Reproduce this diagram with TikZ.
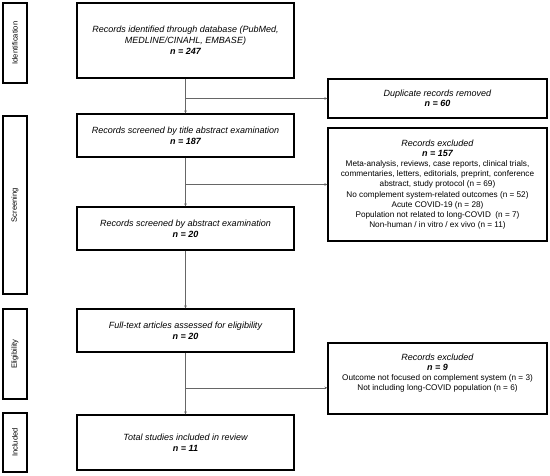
\documentclass[tikz,border=0pt]{standalone}
\usepackage{fontspec}
\setmainfont{Liberation Sans}
\usetikzlibrary{arrows.meta,calc}
\begin{document}
\begin{tikzpicture}[x=1pt,y=-1pt,
  stage/.style={draw=black,line width=1.1pt,minimum width=24pt,inner sep=0pt},
  stagetext/.style={rotate=90,font=\fontsize{7.6}{9}\selectfont},
  mainbox/.style={draw=black,line width=1.3pt,minimum width=217pt,align=center,inner sep=2pt,
    font=\fontsize{9}{11}\selectfont},
  sidebox/.style={draw=black,line width=1.3pt,minimum width=219pt,align=center,inner sep=2pt,
    font=\fontsize{8.2}{10.1}\selectfont},
  arr/.style={draw=black!60,line width=0.6pt,-{Stealth[length=3pt,width=2.6pt]}}]
\newcommand{\hdfont}{\fontsize{9}{10.1}\selectfont}
\useasboundingbox (0,0) rectangle (550,475);
\fill[white] (0,0) rectangle (550,475);
% stage labels
\node[stage,minimum height=80pt] (s1) at (15,43) {};
\node[stagetext] (t1) at (s1.center) {Identification};
\node[stage,minimum height=178pt] (s2) at (15,205) {};
\node[stagetext] (t2) at (s2.center) {Screening};
\node[stage,minimum height=90pt] (s3) at (15,354) {};
\node[stagetext] (t3) at (s3.center) {Eligibility};
\node[stage,minimum height=59pt] (s4) at (15,442.5) {};
\node[stagetext] (t4) at (s4.center) {Included};
% main boxes
\node[mainbox,minimum height=75pt] (b1) at (185.5,40.5)
  {\itshape Records identified through database (PubMed,\\ \itshape MEDLINE/CINAHL, EMBASE)\\ \bfseries\itshape n = 247};
\node[mainbox,minimum height=43pt] (b2) at (185.5,135.5)
  {\itshape Records screened by title abstract examination\\ \bfseries\itshape n = 187};
\node[mainbox,minimum height=43pt] (b3) at (185.5,228.5)
  {\itshape Records screened by abstract examination\\ \bfseries\itshape n = 20};
\node[mainbox,minimum height=43pt] (b4) at (185.5,330.5)
  {\itshape Full-text articles assessed for eligibility\\ \bfseries\itshape n = 20};
\node[mainbox,minimum height=55pt] (b5) at (185.5,442.5)
  {\itshape Total studies included in review\\ \bfseries\itshape n = 11};
% side boxes
\node[sidebox,minimum height=39pt] (r1) at (437.5,98.5)
  {{\hdfont\itshape Duplicate records removed}\\ {\hdfont\bfseries\itshape n = 60}};
\node[sidebox,minimum height=113pt] (r2) at (437.5,184.5)
  {{\hdfont\itshape Records excluded}\\ {\hdfont\bfseries\itshape n = 157}\\
   Meta-analysis, reviews, case reports, clinical trials,\\
   commentaries, letters, editorials, preprint, conference\\
   abstract, study protocol (n = 69)\\
   No complement system-related outcomes (n = 52)\\
   Acute COVID-19 (n = 28)\\
   Population not related to long-COVID\ \ (n = 7)\\
   Non-human / in vitro / ex vivo (n = 11)};
\node[sidebox,minimum height=71pt] (r3) at (437.5,378.5)
  {{\hdfont\itshape Records excluded}\\ {\hdfont\bfseries\itshape n = 9}\\
   Outcome not focused on complement system (n = 3)\\
   Not including long-COVID population (n = 6)\\[3pt]\mbox{}};
% connectors
\draw[arr] (b1) -- (b2);
\draw[arr] (b2) -- (b3);
\draw[arr] (b3) -- (b4);
\draw[arr] (b4) -- (b5);
\coordinate (j1) at (b1.south |- r1.west);
\coordinate (j2) at (b2.south |- r2.west);
\coordinate (j3) at ($(b4.south)!0.57!(b5.north)$);
\draw[arr] (j1) -- (r1.west);
\draw[arr] (j2) -- (r2.west);
\draw[arr] (j3) -- (j3 -| r3.west);
\end{tikzpicture}
\end{document}
